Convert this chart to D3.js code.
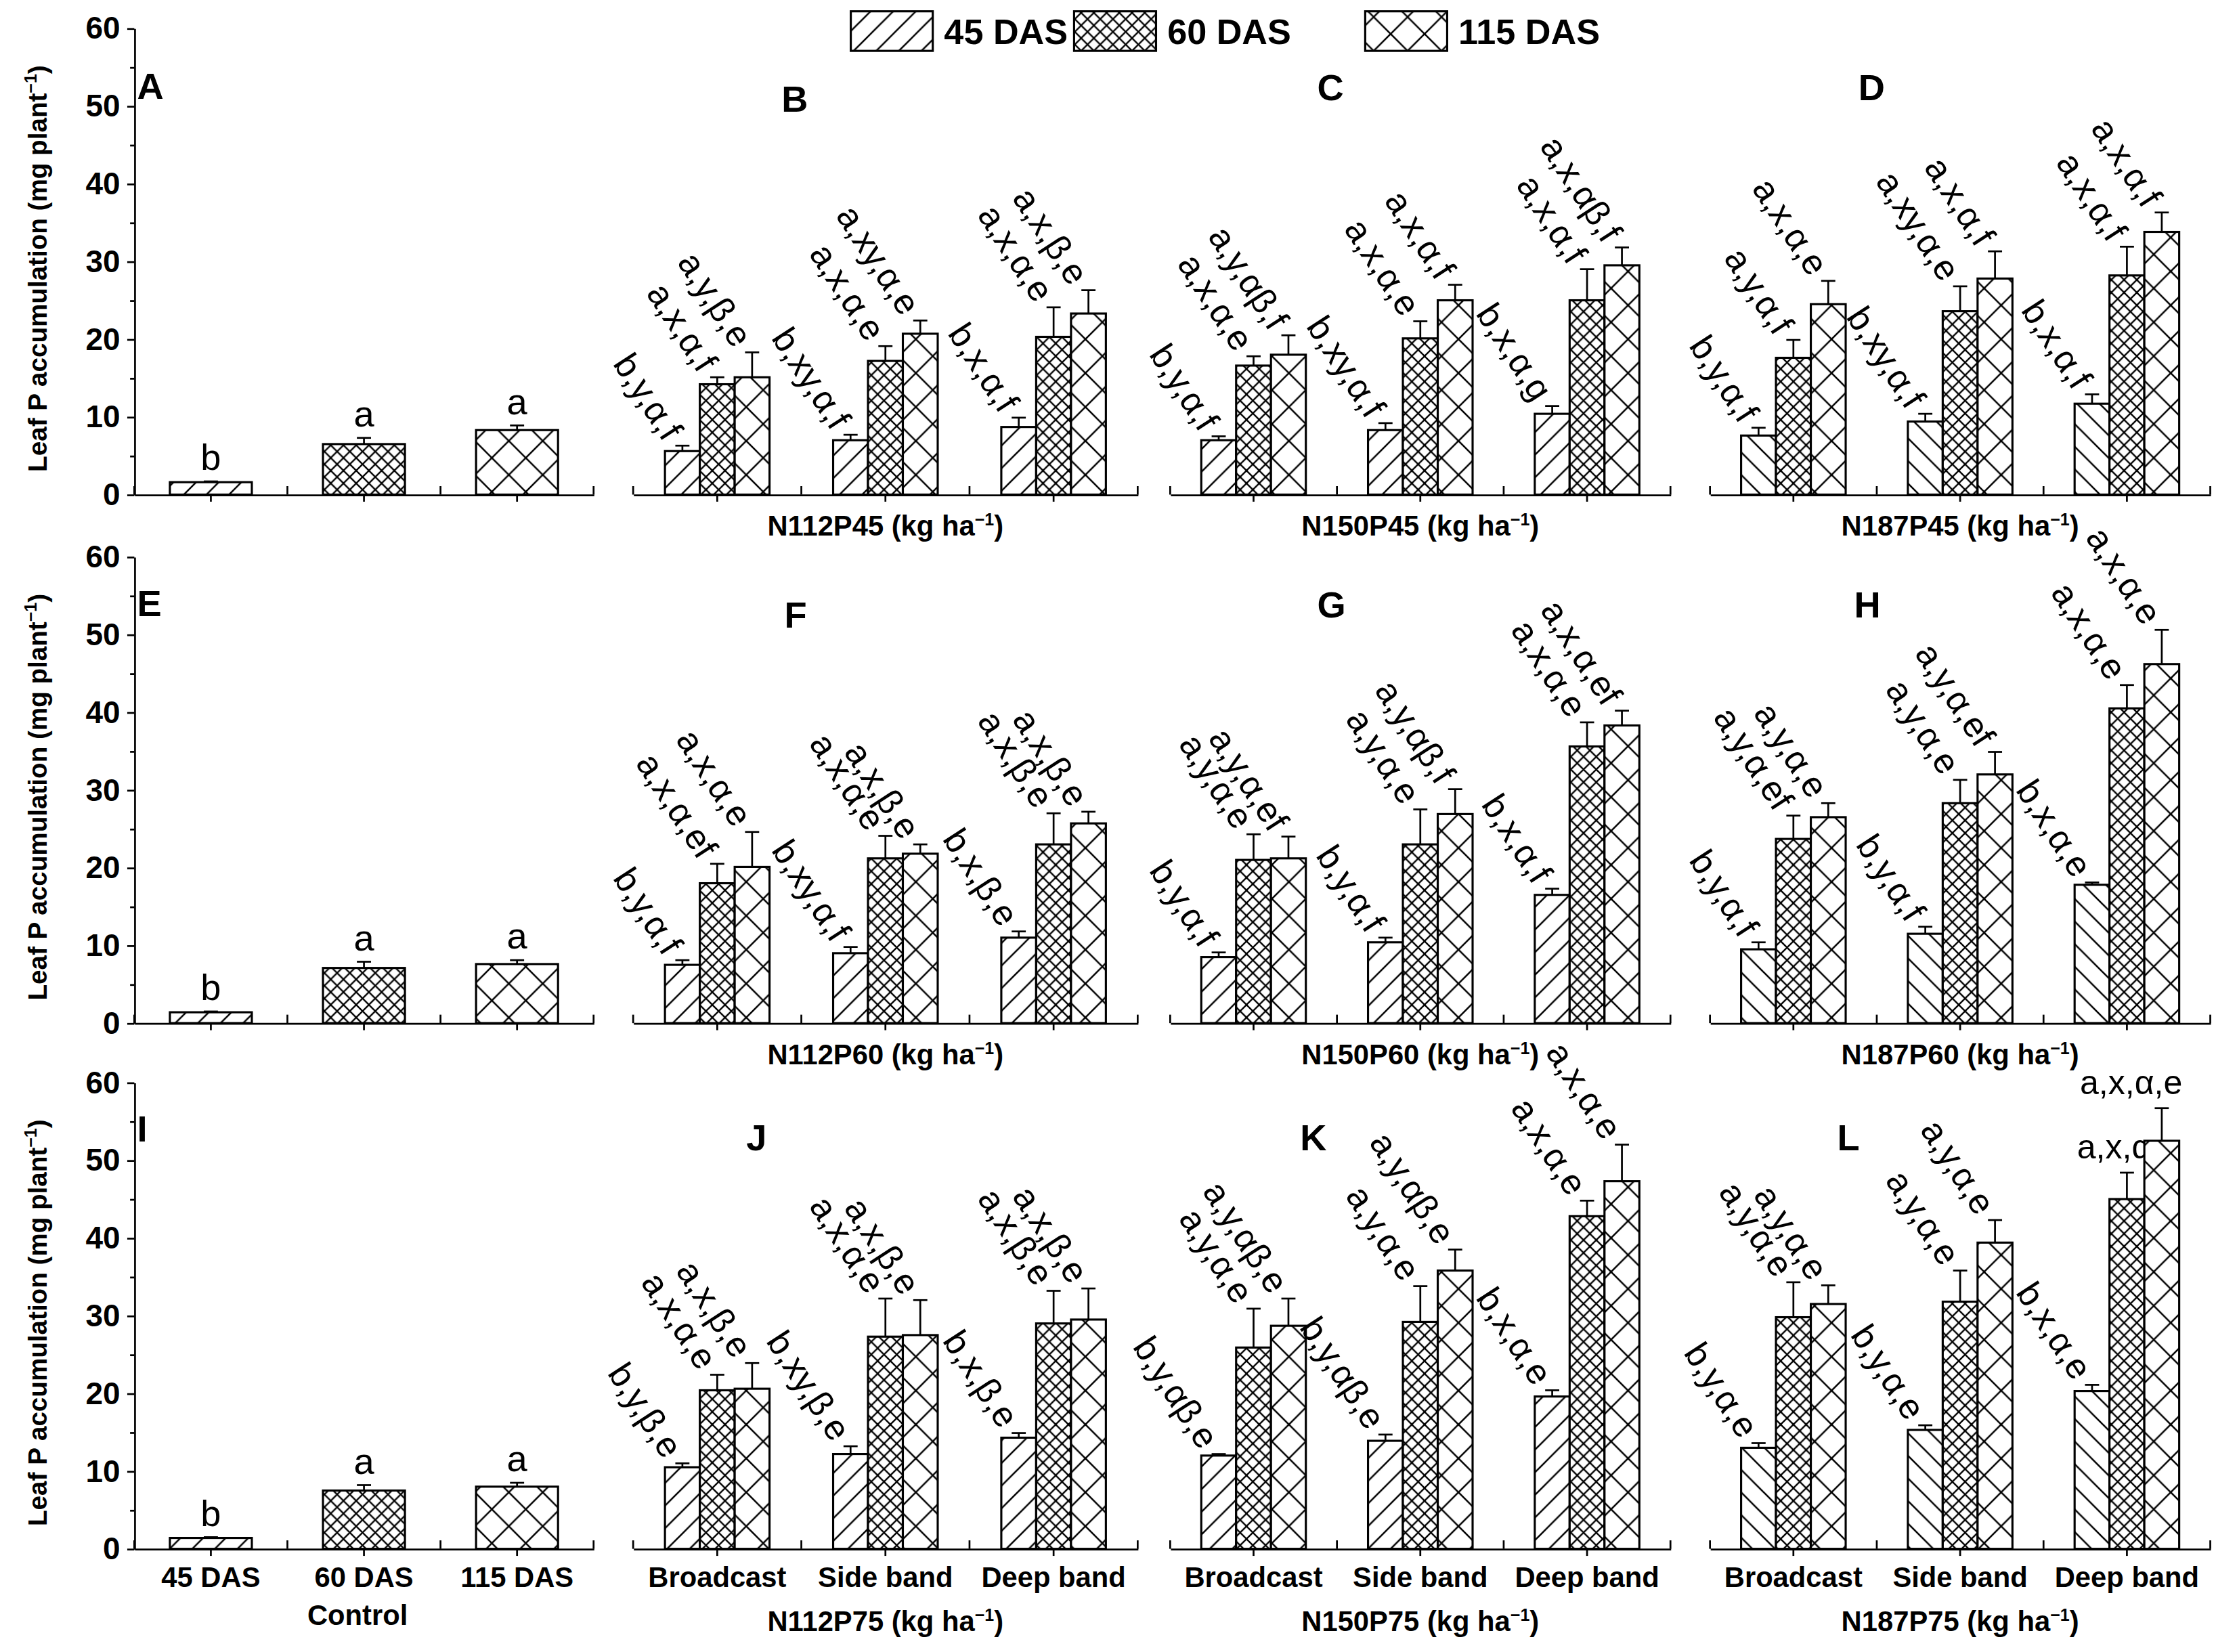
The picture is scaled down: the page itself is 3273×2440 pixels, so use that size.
<!DOCTYPE html>
<html><head><meta charset="utf-8">
<script src="https://cdn.jsdelivr.net/npm/d3@7"></script>
<style>body{margin:0;background:#fff}text{font-family:"Liberation Sans",Arial,sans-serif}</style>
</head><body>
<script>
// data
var series = ['45 DAS', '60 DAS', '115 DAS'];
var methods = ['Broadcast', 'Side band', 'Deep band'];
var rowTreat = ['P45', 'P60', 'P75'];
var nLevels = ['N112', 'N150', 'N187'];
var yTicks = [0, 10, 20, 30, 40, 50, 60];

var controlVals = [[1.6, 6.5, 8.3], [1.4, 7.1, 7.6], [1.4, 7.5, 8.0]];
var controlErr = [[0.1, 0.8, 0.6], [0.1, 0.8, 0.5], [0.1, 0.7, 0.5]];
var controlLetters = ['b', 'a', 'a'];

var panelB = [[5.6, 14.2, 15.1], [7.0, 17.2, 20.7], [8.7, 20.3, 23.3]];
var panelC = [[7.0, 16.6, 18.0], [8.3, 20.1, 25.0], [10.4, 25.0, 29.5]];
var panelD = [[7.6, 17.6, 24.5], [9.4, 23.6, 27.8], [11.7, 28.2, 33.8]];
var panelF = [[7.5, 18.0, 20.1], [9.0, 21.2, 21.8], [11.0, 23.0, 25.7]];
var panelG = [[8.5, 21.0, 21.2], [10.4, 23.0, 26.9], [16.5, 35.6, 38.3]];
var panelH = [[9.5, 23.7, 26.5], [11.5, 28.3, 32.0], [17.8, 40.5, 46.2]];
var panelJ = [[10.5, 20.4, 20.6], [12.2, 27.3, 27.5], [14.3, 29.0, 29.5]];
var panelK = [[12.0, 25.9, 28.7], [13.9, 29.2, 35.8], [19.6, 42.8, 47.3]];
var panelL = [[13.0, 29.8, 31.5], [15.3, 31.8, 39.4], [20.3, 45.0, 52.5]];

var errB = [[0.7, 0.9, 3.2], [0.7, 1.9, 1.7], [1.2, 3.8, 3.0]];
var errC = [[0.5, 1.2, 2.5], [0.9, 2.2, 2.0], [1.0, 4.0, 2.3]];
var errD = [[1.0, 2.3, 3.0], [1.0, 3.2, 3.5], [1.2, 3.7, 2.5]];
var errF = [[0.6, 2.5, 4.5], [0.8, 2.9, 1.2], [0.8, 4.0, 1.5]];
var errG = [[0.6, 3.3, 2.8], [0.6, 4.5, 3.2], [0.8, 3.1, 1.9]];
var errH = [[0.9, 3.0, 1.8], [0.9, 3.0, 2.9], [0.3, 3.0, 4.4]];
var errJ = [[0.5, 2.0, 3.3], [1.0, 4.9, 4.5], [0.6, 4.2, 4.0]];
var errK = [[0.2, 5.0, 3.5], [0.8, 4.6, 2.7], [0.8, 2.0, 4.7]];
var errL = [[0.6, 4.5, 2.4], [0.6, 4.0, 2.9], [0.8, 3.4, 4.2]];

var lettersB = [['b,y,α,f', 'a,x,α,f', 'a,y,β,e'], ['b,xy,α,f', 'a,x,α,e', 'a,xy,α,e'], ['b,x,α,f', 'a,x,α,e', 'a,x,β,e']];
var lettersC = [['b,y,α,f', 'a,x,α,e', 'a,y,αβ,f'], ['b,xy,α,f', 'a,x,α,e', 'a,x,α,f'], ['b,x,α,g', 'a,x,α,f', 'a,x,αβ,f']];
var lettersD = [['b,y,α,f', 'a,y,α,f', 'a,x,α,e'], ['b,xy,α,f', 'a,xy,α,e', 'a,x,α,f'], ['b,x,α,f', 'a,x,α,f', 'a,x,α,f']];
var lettersF = [['b,y,α,f', 'a,x,α,ef', 'a,x,α,e'], ['b,xy,α,f', 'a,x,α,e', 'a,x,β,e'], ['b,x,β,e', 'a,x,β,e', 'a,x,β,e']];
var lettersG = [['b,y,α,f', 'a,y,α,e', 'a,y,α,ef'], ['b,y,α,f', 'a,y,α,e', 'a,y,αβ,f'], ['b,x,α,f', 'a,x,α,e', 'a,x,α,ef']];
var lettersH = [['b,y,α,f', 'a,y,α,ef', 'a,y,α,e'], ['b,y,α,f', 'a,y,α,e', 'a,y,α,ef'], ['b,x,α,e', 'a,x,α,e', 'a,x,α,e']];
var lettersJ = [['b,y,β,e', 'a,x,α,e', 'a,x,β,e'], ['b,xy,β,e', 'a,x,α,e', 'a,x,β,e'], ['b,x,β,e', 'a,x,β,e', 'a,x,β,e']];
var lettersK = [['b,y,αβ,e', 'a,y,α,e', 'a,y,αβ,e'], ['b,y,αβ,e', 'a,y,α,e', 'a,y,αβ,e'], ['b,x,α,e', 'a,x,α,e', 'a,x,α,e']];
var lettersL = [['b,y,α,e', 'a,y,α,e', 'a,y,α,e'], ['b,y,α,e', 'a,y,α,e', 'a,y,α,e'], ['b,x,α,e', 'a,x,α,e', 'a,x,α,e']];

// layout in the 1568-wide drawing space, scaled up by the viewBox
var W = 1568, H = 1169;
var rowTop = [20, 394, 766];
var rowH = 330;
var panelX = [[448, 805], [828, 1182], [1210, 1564]];
var panelNames = [['B', 'C', 'D'], ['F', 'G', 'H'], ['J', 'K', 'L']];
var panelLetterPos = [[[553, 70], [932, 62], [1315, 62]], [[555, 435], [932, 428], [1312, 428]], [[528, 805], [920, 805], [1300, 805]]];
var ctrlNames = ['A', 'E', 'I'];

var vals = [[panelB, panelC, panelD], [panelF, panelG, panelH], [panelJ, panelK, panelL]];
var errs = [[errB, errC, errD], [errF, errG, errH], [errJ, errK, errL]];
var lets = [[lettersB, lettersC, lettersD], [lettersF, lettersG, lettersH], [lettersJ, lettersK, lettersL]];

var svg = d3.select('body').append('svg')
    .attr('width', 3273).attr('height', 2440)
    .attr('viewBox', '0 0 ' + W + ' ' + H);

// hatch patterns
var defs = svg.append('defs');
function hatch(id, size, paths, sw) {
    var p = defs.append('pattern').attr('id', id).attr('patternUnits', 'userSpaceOnUse')
        .attr('width', size).attr('height', size);
    p.append('rect').attr('width', size).attr('height', size).attr('fill', '#fff');
    paths.forEach(function(d) {
        p.append('path').attr('d', d).attr('stroke', '#000').attr('stroke-width', sw).attr('fill', 'none');
    });
}
hatch('fwd', 16, ['M0,16 L16,0', 'M-4,4 L4,-4', 'M12,20 L20,12'], 1.2);
hatch('back', 16, ['M0,0 L16,16', 'M-4,12 L4,20', 'M12,-4 L20,4'], 1.2);
hatch('dense', 9, ['M0,9 L9,0', 'M0,0 L9,9', 'M-2,2 L2,-2', 'M7,11 L11,7', 'M-2,7 L2,11', 'M7,-2 L11,2'], 1.1);
hatch('wide', 24, ['M0,24 L24,0', 'M0,0 L24,24'], 1.2);
var fills = ['url(#fwd)', 'url(#dense)', 'url(#wide)'];

var y = d3.scaleLinear().domain([0, 60]);

function yAxis(r) {
    var yy = y.copy().range([rowTop[r] + rowH, rowTop[r]]);
    var g = svg.append('g').attr('transform', 'translate(95,0)');
    g.call(d3.axisLeft(yy).tickValues(yTicks).tickSize(5).tickSizeOuter(0).tickFormat(d3.format('d')));
    g.append('g').call(d3.axisLeft(yy).tickValues([5, 15, 25, 35, 45, 55]).tickSize(3).tickFormat(''))
        .select('.domain').remove();
    g.selectAll('text').attr('font-size', 22).attr('font-weight', 'bold').attr('font-family', '"Liberation Sans",Arial,sans-serif').attr('dx', '-2');
    g.selectAll('line,path').attr('stroke', '#000').attr('stroke-width', 1.3);
    var t = svg.append('text').attr('transform', 'translate(33,' + (rowTop[r] + rowH / 2 + 5) + ') rotate(-90)')
        .attr('text-anchor', 'middle').attr('font-size', 18.5).attr('font-weight', 'bold')
        .text('Leaf P accumulation (mg plant');
    t.append('tspan').attr('font-size', 12).attr('dy', -7).text('−1');
    t.append('tspan').attr('dy', 7).text(')');
    return yy;
}

function xLine(x0, x1, base, band) {
    var g = svg.append('g').attr('transform', 'translate(0,' + base + ')');
    g.call(d3.axisBottom(band).tickSize(5).tickSizeOuter(0).tickFormat(''));
    var bounds = [x0 + (x1 - x0) / 3, x0 + 2 * (x1 - x0) / 3, x1];
    g.append('g').selectAll('line').data([x0].concat(bounds)).enter().append('line')
        .attr('x1', d => d).attr('x2', d => d).attr('y1', 0).attr('y2', -6);
    g.selectAll('line,path').attr('stroke', '#000').attr('stroke-width', 1.3);
}

function errBar(x, yy, v, e) {
    svg.append('line').attr('x1', x).attr('x2', x).attr('y1', yy(v)).attr('y2', yy(v + e)).attr('stroke', '#000').attr('stroke-width', 1.3);
    svg.append('line').attr('x1', x - 5).attr('x2', x + 5).attr('y1', yy(v + e)).attr('y2', yy(v + e)).attr('stroke', '#000').attr('stroke-width', 1.3);
}

for (var r = 0; r < 3; r++) {
    var yy = yAxis(r);
    var base = rowTop[r] + rowH;

    // control panel
    var bandA = d3.scaleBand().domain(series).range([95, 420]);
    xLine(95, 420, base, bandA);
    series.forEach(function(s, i) {
        var cx = bandA(s) + bandA.bandwidth() / 2, bw = 58;
        svg.append('rect').attr('x', cx - bw / 2).attr('y', yy(controlVals[r][i])).attr('width', bw)
            .attr('height', yy(0) - yy(controlVals[r][i])).attr('fill', fills[i]).attr('stroke', '#000').attr('stroke-width', 1.5);
        errBar(cx, yy, controlVals[r][i], controlErr[r][i]);
        svg.append('text').attr('x', cx).attr('y', yy(controlVals[r][i] + controlErr[r][i]) - 8)
            .attr('text-anchor', 'middle').attr('font-size', 26).text(controlLetters[i]);
        if (r === 2) {
            svg.append('text').attr('x', cx).attr('y', base + 27).attr('text-anchor', 'middle')
                .attr('font-size', 20).attr('font-weight', 'bold').text(s);
        }
    });
    svg.append('text').attr('x', 97).attr('y', r === 0 ? 70 : (r === 1 ? 436 : 808)).attr('font-size', 26).attr('font-weight', 'bold').text(ctrlNames[r]);
    if (r === 2) svg.append('text').attr('x', 253).attr('y', base + 54).attr('text-anchor', 'middle')
        .attr('font-size', 20).attr('font-weight', 'bold').text('Control');

    // treatment panels
    for (var p = 0; p < 3; p++) {
        var x0 = panelX[p][0], x1 = panelX[p][1];
        var band = d3.scaleBand().domain(methods).range([x0, x1]);
        var inner = d3.scaleBand().domain(series).range([0, 74]);
        xLine(x0, x1, base, band);
        methods.forEach(function(m, gi) {
            var gx = band(m) + band.bandwidth() / 2 - 37;
            series.forEach(function(s, i) {
                var v = vals[r][p][gi][i], e = errs[r][p][gi][i];
                var bx = gx + inner(s), bw = inner.bandwidth();
                var fill = (i === 0 && p === 2) ? 'url(#back)' : fills[i];
                svg.append('rect').attr('x', bx).attr('y', yy(v)).attr('width', bw).attr('height', yy(0) - yy(v))
                    .attr('fill', fill).attr('stroke', '#000').attr('stroke-width', 1.5);
                errBar(bx + bw / 2, yy, v, e);
                var txt = lets[r][p][gi][i];
                var ty = yy(v + e);
                if (r === 2 && p === 2 && gi === 2 && i > 0) {
                    // horizontal labels above the deep band bars
                    svg.append('text').attr('x', gx + 36 + i * 2).attr('y', ty - 10).attr('text-anchor', 'middle')
                        .attr('font-size', 24).text(txt);
                } else {
                    svg.append('text').attr('transform', 'translate(' + (bx - 1) + ',' + (ty - 2) + ') rotate(57)')
                        .attr('text-anchor', 'end').attr('font-size', 25).text(txt);
                }
            });
            if (r === 2) svg.append('text').attr('x', band(m) + band.bandwidth() / 2).attr('y', base + 27)
                .attr('text-anchor', 'middle').attr('font-size', 20).attr('font-weight', 'bold').text(m);
        });
        var lp = panelLetterPos[r][p];
        svg.append('text').attr('x', lp[0]).attr('y', lp[1] + 9).attr('font-size', 26).attr('font-weight', 'bold').text(panelNames[r][p]);
        var lt = svg.append('text').attr('x', (x0 + x1) / 2).attr('y', r === 2 ? base + 58 : base + 29)
            .attr('text-anchor', 'middle').attr('font-size', 20).attr('font-weight', 'bold')
            .text(nLevels[p] + rowTreat[r] + ' (kg ha');
        lt.append('tspan').attr('font-size', 12).attr('dy', -7).text('−1');
        lt.append('tspan').attr('dy', 7).text(')');
    }
}

// legend
var legX = [602, 760, 966];
series.forEach(function(s, i) {
    svg.append('rect').attr('x', legX[i]).attr('y', 8).attr('width', 58).attr('height', 28)
        .attr('fill', fills[i]).attr('stroke', '#000').attr('stroke-width', 1.5);
    svg.append('text').attr('x', legX[i] + 66).attr('y', 31).attr('font-size', 25).attr('font-weight', 'bold').text(s);
});
</script>
</body></html>
